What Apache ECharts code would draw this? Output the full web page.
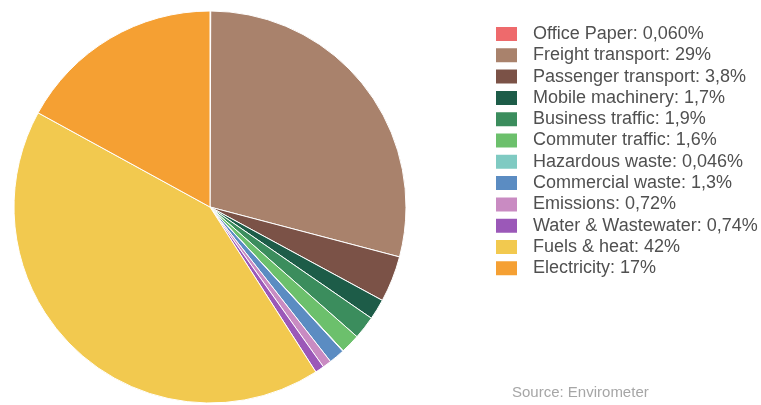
<!DOCTYPE html>
<html>
<head>
<meta charset="utf-8">
<script src="https://cdn.jsdelivr.net/npm/echarts@6/dist/echarts.min.js"></script>
<style>
  html, body { margin: 0; padding: 0; background: #fff; }
  #chart { width: 761px; height: 405px; }
</style>
</head>
<body>
<div id="chart"></div>
<script>
// categories, shares (%) and the legend text as printed
const categories = ['Office Paper', 'Freight transport', 'Passenger transport', 'Mobile machinery',
  'Business traffic', 'Commuter traffic', 'Hazardous waste', 'Commercial waste',
  'Emissions', 'Water & Wastewater', 'Fuels & heat', 'Electricity'];
const shares = [0.060, 29, 3.8, 1.7, 1.9, 1.6, 0.046, 1.3, 0.72, 0.74, 42, 17];
const shareLabels = ['0,060%', '29%', '3,8%', '1,7%', '1,9%', '1,6%', '0,046%', '1,3%', '0,72%', '0,74%', '42%', '17%'];
const colors = ['#ee6a6c', '#a9826c', '#7b5247', '#1d5c48', '#3b8d5d', '#6cc06c', '#7fcac2',
  '#5b8cc2', '#c98bc2', '#9b58b8', '#f2c94f', '#f5a033'];

const chart = echarts.init(document.getElementById('chart'));

//饼图数据
let pieData = [];
for (let i = 0; i < categories.length; i++) {
  pieData.push({
    name: categories[i],
    value: shares[i],
    itemStyle: { color: colors[i] }
  });
}

const option = {
  backgroundColor: '#fff',
  animation: false,
  legend: {
    orient: 'vertical',
    left: 489,
    top: 20,
    itemWidth: 23,
    itemHeight: 16,
    itemGap: 3.3,
    icon: 'rect',
    textStyle: {
      color: '#505050',
      fontSize: 18,
      fontFamily: 'Liberation Sans',
      padding: [0, 0, 0, 10]
    },
    formatter: function (name) {
      return name + ': ' + shareLabels[categories.indexOf(name)];
    },
    data: categories
  },
  graphic: [{
    type: 'text',
    left: 512,
    top: 385,
    style: {
      text: 'Source: Envirometer',
      fill: '#a6a6a6',
      font: '15px Liberation Sans'
    }
  }],
  series: [{
    type: 'pie',
    center: [210, 207],
    radius: 196,
    startAngle: 90,
    clockwise: true,
    label: { show: false },
    labelLine: { show: false },
    itemStyle: { borderColor: '#fff', borderWidth: 1 },
    data: pieData
  }]
};
chart.setOption(option);
</script>
</body>
</html>
